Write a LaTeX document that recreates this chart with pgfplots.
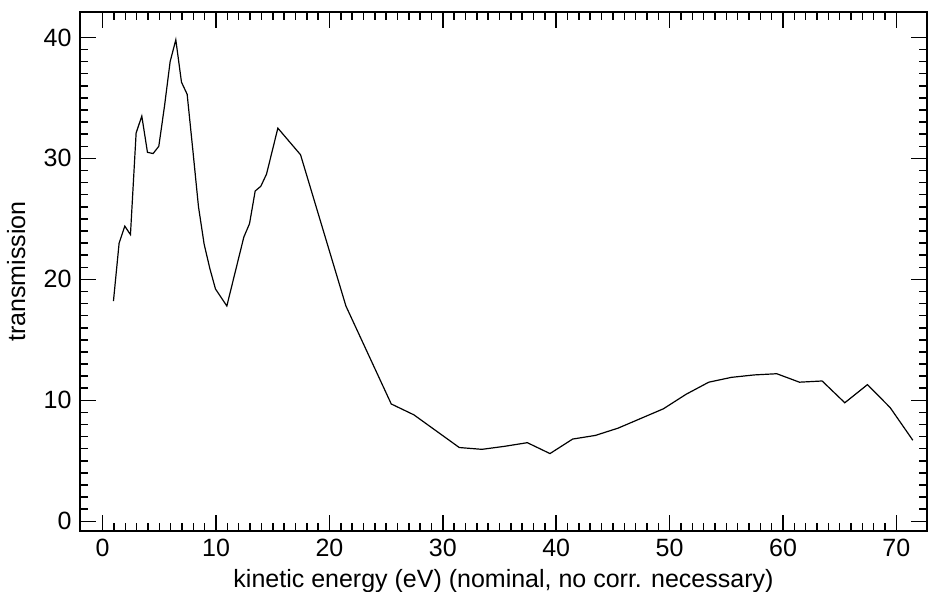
\documentclass[border=0pt]{standalone}
\usepackage{pgfplots}
\pgfplotsset{compat=1.18}
\usepackage{fontspec}
\setmainfont{Liberation Sans}
\begin{document}
\fontsize{25bp}{30bp}\selectfont
\begin{tikzpicture}
\path[use as bounding box] (-80bp,-61bp) rectangle (848bp,531bp);
\begin{axis}[
  at={(0,0)}, anchor=south west,
  scale only axis, width=847bp, height=519bp,
  xmin=-2, xmax=72.7, ymin=-0.8, ymax=42.1,
  xtick={0,10,...,70}, ytick={0,10,...,40},
  minor x tick num=9, minor y tick num=9,
  tick pos=both, tick align=inside,
  major tick length=16bp, minor tick length=8bp,
  axis line style={line width=1.6bp, black},
  tick style={line width=1.5bp, black},
  ticklabel style={font=\fontsize{25bp}{30bp}\selectfont},
  /pgf/number format/assume math mode=true,
  xlabel={kinetic energy (eV) (nominal, no corr. necessary)},
  ylabel={transmission},
  label style={font=\fontsize{25bp}{30bp}\selectfont},
  xlabel style={at={(axis description cs:0.5,0)}, anchor=base, yshift=-56bp},
  ylabel style={at={(axis description cs:-0.0649,0.5)}, anchor=base, rotate=0},
]
\addplot[black, line width=1.2bp, mark=none] coordinates {
(0.95,18.2) (1.45,23.0) (1.95,24.4) (2.45,23.7) (2.95,32.1) (3.45,33.5)
(3.95,30.5) (4.45,30.4) (4.95,31.0) (5.45,34.3) (5.95,38.0) (6.45,39.8)
(6.95,36.3) (7.45,35.3) (7.95,30.7) (8.45,26.0) (8.95,22.9) (9.45,20.9)
(9.95,19.2) (10.95,17.8) (11.45,19.7) (12.45,23.5) (12.95,24.6) (13.45,27.3)
(13.95,27.7) (14.45,28.7) (15.45,32.5) (17.45,30.3) (21.45,17.8) (25.45,9.7)
(27.45,8.8) (31.45,6.1) (33.45,5.95) (35.45,6.2) (37.45,6.5) (39.45,5.6)
(41.45,6.8) (43.45,7.1) (45.45,7.7) (47.45,8.5) (49.45,9.3) (51.45,10.5)
(53.45,11.5) (55.45,11.9) (57.45,12.1) (59.45,12.2) (61.45,11.5) (63.45,11.6)
(65.45,9.8) (67.45,11.3) (69.45,9.4) (71.45,6.7)
};
\end{axis}
\end{tikzpicture}
\end{document}
